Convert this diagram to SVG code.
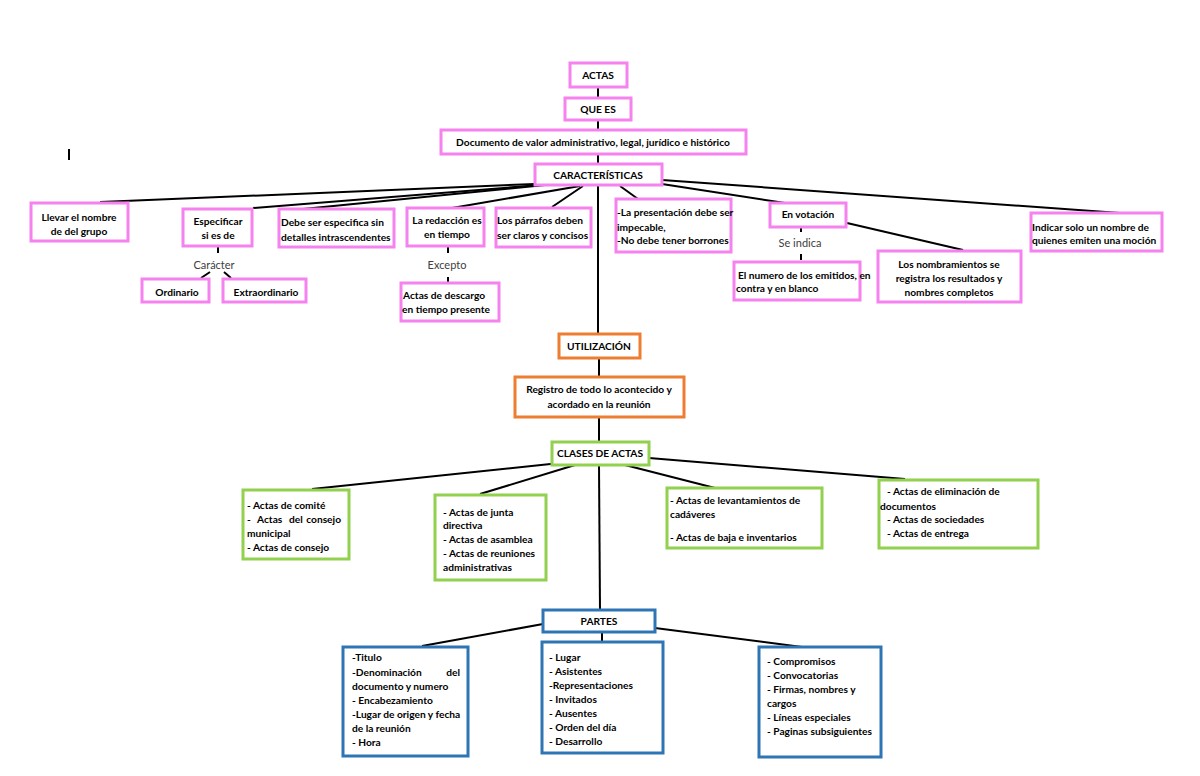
<svg xmlns="http://www.w3.org/2000/svg" width="1200" height="776" viewBox="0 0 1200 776">
<style>
.bg{fill:#ffffff}
.pk{fill:#ffffff;stroke:#f582ee;stroke-width:3}
.or{fill:#ffffff;stroke:#ed7d31;stroke-width:3}
.gr{fill:#ffffff;stroke:#92d050;stroke-width:3}
.bl{fill:#ffffff;stroke:#2e75b6;stroke-width:3}
.ln{stroke:#000000;stroke-width:2;fill:none}
text{font-family:Lato,"Liberation Sans",sans-serif;font-size:10.2px;font-weight:bold;fill:#000000}
.c{text-anchor:middle}
.n{font-weight:normal;fill:#404040;font-size:11px}
</style>
<rect class="bg" x="0" y="0" width="1200" height="776"/>
<rect x="68" y="149" width="2" height="11" fill="#000"/>
<g id="connectors">
<line class="ln" x1="598" y1="87" x2="598" y2="98"/>
<line class="ln" x1="598" y1="120" x2="598" y2="130"/>
<line class="ln" x1="598" y1="154" x2="598" y2="164"/>
<line class="ln" x1="535" y1="184" x2="100" y2="202"/>
<line class="ln" x1="540" y1="185" x2="253" y2="208"/>
<line class="ln" x1="545" y1="185" x2="303" y2="209"/>
<line class="ln" x1="580" y1="186" x2="452" y2="208"/>
<line class="ln" x1="583" y1="186" x2="552" y2="207"/>
<line class="ln" x1="598" y1="185" x2="598" y2="334"/>
<line class="ln" x1="620" y1="186" x2="638" y2="199"/>
<line class="ln" x1="662" y1="184" x2="785" y2="203"/>
<line class="ln" x1="662" y1="180" x2="1120" y2="213"/>
<line class="ln" x1="218" y1="247" x2="218" y2="253"/>
<line class="ln" x1="210" y1="272" x2="201" y2="278"/>
<line class="ln" x1="224" y1="272" x2="231" y2="278"/>
<line class="ln" x1="448" y1="247" x2="448" y2="253"/>
<line class="ln" x1="448" y1="277" x2="448" y2="283"/>
<line class="ln" x1="801" y1="227" x2="801" y2="232"/>
<line class="ln" x1="801" y1="254" x2="801" y2="260"/>
<line class="ln" x1="847" y1="223" x2="963" y2="250"/>
<line class="ln" x1="599" y1="358" x2="599" y2="377"/>
<line class="ln" x1="599" y1="417" x2="599" y2="442"/>
<line class="ln" x1="560" y1="463" x2="312" y2="489"/>
<line class="ln" x1="575" y1="465" x2="480" y2="494"/>
<line class="ln" x1="625" y1="465" x2="715" y2="488"/>
<line class="ln" x1="649" y1="458" x2="905" y2="479"/>
<line class="ln" x1="599" y1="465" x2="600" y2="610"/>
<line class="ln" x1="543" y1="624" x2="422" y2="646"/>
<line class="ln" x1="602" y1="632" x2="602" y2="642"/>
<line class="ln" x1="655" y1="628" x2="802" y2="647"/>
</g>
<g id="actas"><rect class="pk" x="570" y="63" width="57" height="24"/><text class="c" x="598" y="79">ACTAS</text></g>
<g id="quees"><rect class="pk" x="565" y="98" width="66" height="22"/><text class="c" x="598" y="113">QUE ES</text></g>
<g id="documento"><rect class="pk" x="441" y="130" width="305" height="24"/><text class="c" x="593" y="146">Documento de valor administrativo, legal, jurídico e histórico</text></g>
<g id="caracteristicas"><rect class="pk" x="535" y="164" width="127" height="21"/><text class="c" x="598" y="179">CARACTERÍSTICAS</text></g>
<g id="llevar"><rect class="pk" x="31" y="203" width="97" height="38"/><text class="c" x="79" y="221">Llevar el nombre</text><text class="c" x="79" y="235">de del grupo</text></g>
<g id="especificar"><rect class="pk" x="183" y="209" width="69" height="37"/><text class="c" x="218" y="225">Especificar</text><text class="c" x="218" y="239">si es de</text></g>
<g id="caracter"><text class="c n" x="214" y="269">Carácter</text></g>
<g id="ordinario"><rect class="pk" x="142" y="279" width="67" height="23"/><text class="c" x="177" y="296">Ordinario</text></g>
<g id="extraordinario"><rect class="pk" x="223" y="279" width="83" height="23"/><text class="c" x="266" y="296">Extraordinario</text></g>
<g id="debeser"><rect class="pk" x="279" y="209" width="115" height="38"/><text x="281" y="226">Debe ser especifica sin</text><text x="281" y="241">detalles intrascendentes</text></g>
<g id="redaccion"><rect class="pk" x="407" y="208" width="77" height="38"/><text class="c" x="447" y="224">La redacción es</text><text class="c" x="447" y="238">en tiempo</text></g>
<g id="excepto"><text class="c n" x="447" y="269">Excepto</text></g>
<g id="descargo"><rect class="pk" x="401" y="283" width="98" height="38"/><text x="403" y="299">Actas de descargo</text><text x="402" y="313">en tiempo presente</text></g>
<g id="parrafos"><rect class="pk" x="496" y="208" width="95" height="39"/><text x="497" y="224">Los párrafos deben</text><text x="497" y="239">ser claros y concisos</text></g>
<g id="presentacion"><rect class="pk" x="616" y="199" width="115" height="53"/><text x="617" y="216">-La presentación debe ser</text><text x="617" y="231">impecable,</text><text x="617" y="244">-No debe tener borrones</text></g>
<g id="votacion"><rect class="pk" x="770" y="203" width="76" height="24"/><text class="c" x="808" y="218">En votación</text></g>
<g id="seindica"><text class="c n" x="800" y="247">Se indica</text></g>
<g id="numero"><rect class="pk" x="734" y="262" width="126" height="38"/><text x="738" y="279">El numero de los emitidos, en</text><text x="736" y="292">contra y en blanco</text></g>
<g id="nombramientos"><rect class="pk" x="878" y="251" width="143" height="51"/><text class="c" x="949" y="268">Los nombramientos se</text><text class="c" x="949" y="282">registra los resultados y</text><text class="c" x="949" y="296">nombres completos</text></g>
<g id="indicar"><rect class="pk" x="1031" y="213" width="131" height="38"/><text x="1032" y="231">Indicar solo un nombre de</text><text x="1032" y="244">quienes emiten una moción</text></g>
<g id="utilizacion"><rect class="or" x="559" y="334" width="81" height="24"/><text class="c" x="599" y="350">UTILIZACIÓN</text></g>
<g id="registro"><rect class="or" x="515" y="377" width="169" height="40"/><text class="c" x="599" y="393">Registro de todo lo acontecido y</text><text class="c" x="599" y="408">acordado en la reunión</text></g>
<g id="clases"><rect class="gr" x="552" y="442" width="97" height="23"/><text class="c" x="600" y="457">CLASES DE ACTAS</text></g>
<g id="clase1"><rect class="gr" x="243" y="490" width="106" height="69"/><text x="247" y="509">- Actas de comité</text><text x="247" y="523">-</text><text x="257" y="523">Actas</text><text x="289" y="523">del</text><text x="341" y="523" text-anchor="end">consejo</text><text x="247" y="537">municipal</text><text x="247" y="551">- Actas de consejo</text></g>
<g id="clase2"><rect class="gr" x="435" y="495" width="111" height="85"/><text x="443" y="516">- Actas de junta</text><text x="443" y="529">directiva</text><text x="443" y="543">- Actas de asamblea</text><text x="443" y="557">- Actas de reuniones</text><text x="443" y="571">administrativas</text></g>
<g id="clase3"><rect class="gr" x="667" y="488" width="155" height="60"/><text x="670" y="504">- Actas de levantamientos de</text><text x="670" y="518">cadáveres</text><text x="670" y="541">- Actas de baja e inventarios</text></g>
<g id="clase4"><rect class="gr" x="879" y="480" width="159" height="68"/><text x="887" y="495">- Actas de eliminación de</text><text x="880" y="510">documentos</text><text x="887" y="523">- Actas de sociedades</text><text x="887" y="537">- Actas de entrega</text></g>
<g id="partes"><rect class="bl" x="543" y="610" width="112" height="22"/><text class="c" x="599" y="625">PARTES</text></g>
<g id="parte1"><rect class="bl" x="343" y="647" width="125" height="109"/><text x="352" y="661">-Titulo</text><text x="352" y="676">-Denominación</text><text x="460" y="676" text-anchor="end">del</text><text x="352" y="690">documento y numero</text><text x="352" y="704">- Encabezamiento</text><text x="352" y="718">-Lugar de origen y fecha</text><text x="352" y="732">de la reunión</text><text x="352" y="746">- Hora</text></g>
<g id="parte2"><rect class="bl" x="542" y="642" width="121" height="111"/><text x="549" y="661">- Lugar</text><text x="549" y="675">- Asistentes</text><text x="549" y="689">-Representaciones</text><text x="549" y="703">- Invitados</text><text x="549" y="717">- Ausentes</text><text x="549" y="731">- Orden del día</text><text x="549" y="745">- Desarrollo</text></g>
<g id="parte3"><rect class="bl" x="759" y="647" width="122" height="110"/><text x="767" y="665">- Compromisos</text><text x="767" y="679">- Convocatorias</text><text x="767" y="693">- Firmas, nombres y</text><text x="767" y="707">cargos</text><text x="767" y="721">- Líneas especiales</text><text x="767" y="735">- Paginas subsiguientes</text></g>
</svg>
